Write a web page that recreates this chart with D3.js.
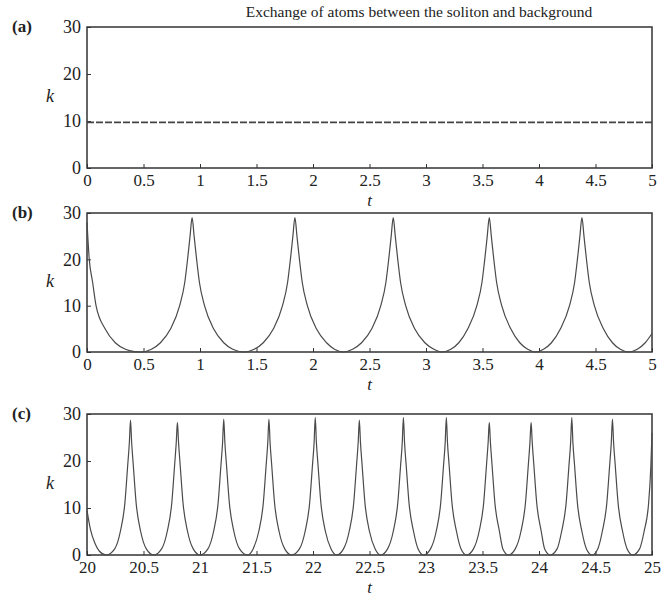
<!DOCTYPE html>
<html>
<head>
<meta charset="utf-8">
<script src="https://cdn.jsdelivr.net/npm/d3@7"></script>
<style>
  body { margin: 0; background: #fff; }
  svg { font-family: "Liberation Serif", "Times New Roman", serif; }
</style>
</head>
<body>
<div id="chart"></div>
<script>
// panel (a): k stays flat
var tA = [0, 5];
var kA = [9.7, 9.7];

// panel (b): t in [0,5]
var tB = [0, 0.02, 0.05, 0.08, 0.16, 0.25, 0.34, 0.42, 0.48,
  0.57, 0.65, 0.74, 0.82, 0.865, 0.89, 0.912, 0.93, 0.948, 0.97, 0.995, 1.04, 1.12, 1.21, 1.29, 1.39,
  1.48, 1.56, 1.65, 1.73, 1.775, 1.80, 1.822, 1.84, 1.858, 1.88, 1.905, 1.95, 2.03, 2.12, 2.19, 2.27,
  2.35, 2.43, 2.52, 2.60, 2.645, 2.67, 2.692, 2.71, 2.728, 2.75, 2.775, 2.82, 2.90, 2.99, 3.07, 3.14,
  3.22, 3.29, 3.37, 3.45, 3.495, 3.52, 3.542, 3.56, 3.578, 3.60, 3.625, 3.67, 3.75, 3.83, 3.90, 3.97,
  4.04, 4.11, 4.19, 4.27, 4.315, 4.34, 4.362, 4.38, 4.398, 4.42, 4.445, 4.49, 4.57, 4.65, 4.72, 4.79,
  4.87, 4.94, 5.0];
var kB = [28, 20, 15, 10, 5, 2, 0.6, 0.1, 0,
  0.6, 2, 5, 10, 15, 20, 25, 29, 25, 20, 15, 10, 5, 2, 0.6, 0,
  0.6, 2, 5, 10, 15, 20, 25, 29, 25, 20, 15, 10, 5, 2, 0.6, 0,
  0.6, 2, 5, 10, 15, 20, 25, 29, 25, 20, 15, 10, 5, 2, 0.6, 0,
  0.6, 2, 5, 10, 15, 20, 25, 29, 25, 20, 15, 10, 5, 2, 0.6, 0,
  0.6, 2, 5, 10, 15, 20, 25, 29, 25, 20, 15, 10, 5, 2, 0.6, 0,
  0.6, 2, 4];

// panel (c): t in [20,25]
var tC = [20.00, 20.03, 20.07, 20.11, 20.17,
  20.245, 20.295, 20.335, 20.36, 20.375, 20.385, 20.395, 20.41, 20.435, 20.475, 20.525, 20.59,
  20.66, 20.71, 20.75, 20.775, 20.79, 20.80, 20.81, 20.825, 20.85, 20.89, 20.94, 21.00,
  21.07, 21.12, 21.16, 21.185, 21.20, 21.21, 21.22, 21.235, 21.26, 21.30, 21.35, 21.42,
  21.47, 21.52, 21.56, 21.585, 21.60, 21.61, 21.62, 21.635, 21.66, 21.70, 21.75, 21.81,
  21.88, 21.93, 21.97, 21.995, 22.01, 22.02, 22.03, 22.045, 22.07, 22.11, 22.16, 22.21,
  22.27, 22.32, 22.36, 22.385, 22.40, 22.41, 22.42, 22.435, 22.46, 22.50, 22.55, 22.60,
  22.66, 22.71, 22.75, 22.775, 22.79, 22.80, 22.81, 22.825, 22.85, 22.89, 22.93, 22.98,
  23.04, 23.09, 23.13, 23.155, 23.17, 23.18, 23.19, 23.205, 23.23, 23.27, 23.31, 23.36,
  23.42, 23.47, 23.51, 23.535, 23.55, 23.56, 23.57, 23.585, 23.61, 23.65, 23.68, 23.73,
  23.79, 23.84, 23.88, 23.905, 23.92, 23.93, 23.94, 23.955, 23.98, 24.02, 24.05, 24.10,
  24.16, 24.20, 24.24, 24.265, 24.28, 24.29, 24.30, 24.315, 24.34, 24.38, 24.42, 24.47,
  24.52, 24.56, 24.60, 24.625, 24.64, 24.65, 24.66, 24.675, 24.70, 24.74, 24.78, 24.83,
  24.89, 24.93, 24.97, 24.99, 25.00];
var kC = [9.5, 5.5, 2.5, 0.8, 0,
  1.3, 5, 11, 19, 24, 28.7, 24, 19, 11, 5, 1.3, 0,
  1.3, 5, 11, 19, 24, 28.2, 24, 19, 11, 5, 1.3, 0,
  1.3, 5, 11, 19, 24, 28.9, 24, 19, 11, 5, 1.3, 0,
  1.3, 5, 11, 19, 24, 28.9, 24, 19, 11, 5, 1.3, 0,
  1.3, 5, 11, 19, 24, 29.3, 24, 19, 11, 5, 1.3, 0,
  1.3, 5, 11, 19, 24, 28.7, 24, 19, 11, 5, 1.3, 0,
  1.3, 5, 11, 19, 24, 29.3, 24, 19, 11, 5, 1.3, 0,
  1.3, 5, 11, 19, 24, 29.3, 24, 19, 11, 5, 1.3, 0,
  1.3, 5, 11, 19, 24, 28.2, 24, 19, 11, 5, 1.3, 0,
  1.3, 5, 11, 19, 24, 28.2, 24, 19, 11, 5, 1.3, 0,
  1.3, 5, 11, 19, 24, 29.3, 24, 19, 11, 5, 1.3, 0,
  1.3, 5, 11, 19, 24, 28.9, 24, 19, 11, 5, 1.3, 0,
  1.3, 5, 11, 19, 26];

var kTicks = [0, 10, 20, 30];
var ticksA = [0, 0.5, 1, 1.5, 2, 2.5, 3, 3.5, 4, 4.5, 5];
var ticksC = [20, 20.5, 21, 21.5, 22, 22.5, 23, 23.5, 24, 24.5, 25];

var title = "Exchange of atoms between the soliton and background";

var W = 663, H = 616;
var left = 87, right = 652;
var panels = [
  {label: "(a)", top: 27, bottom: 168, t: tA, k: kA, dom: [0, 5], ticks: ticksA, dashed: true},
  {label: "(b)", top: 213, bottom: 352, t: tB, k: kB, dom: [0, 5], ticks: ticksA},
  {label: "(c)", top: 414, bottom: 555, t: tC, k: kC, dom: [20, 25], ticks: ticksC}
];

var svg = d3.select("#chart")
  .append("svg")
    .attr("width", W)
    .attr("height", H);

svg.append("text")
  .attr("x", 419)
  .attr("y", 17)
  .attr("text-anchor", "middle")
  .attr("font-size", 15.5)
  .attr("fill", "#222")
  .text(title);

panels.forEach(function(p) {
  var x = d3.scaleLinear().domain(p.dom).range([left, right]);
  var y = d3.scaleLinear().domain([0, 30]).range([p.bottom, p.top]);
  var g = svg.append("g");

  // bottom axis, ticks pointing in
  var xa = g.append("g")
    .attr("transform", "translate(0," + p.bottom + ")")
    .call(d3.axisBottom(x).tickValues(p.ticks).tickSize(-4).tickPadding(6)
      .tickFormat(function(d) { return String(d); }));
  xa.selectAll("text").attr("font-size", 17).attr("fill", "#222")
    .attr("font-family", "Liberation Serif");
  xa.selectAll("line").attr("stroke", "#333");
  xa.select(".domain").remove();

  var ya = g.append("g")
    .attr("transform", "translate(" + left + ",0)")
    .call(d3.axisLeft(y).tickValues(kTicks).tickSize(-4).tickPadding(6));
  ya.selectAll("text").attr("font-size", 18).attr("fill", "#222")
    .attr("font-family", "Liberation Serif");
  ya.selectAll("line").attr("stroke", "#333");
  ya.select(".domain").remove();

  // frame
  g.append("rect")
    .attr("x", left).attr("y", p.top)
    .attr("width", right - left).attr("height", p.bottom - p.top)
    .attr("fill", "none").attr("stroke", "#333").attr("stroke-width", 1.5);

  var pts = p.t.map(function(d, i) { return [d, p.k[i]]; });
  g.append("path")
    .datum(pts)
    .attr("fill", "none")
    .attr("stroke", p.dashed ? "#444" : "#4a4a4a")
    .attr("stroke-width", p.dashed ? 1.6 : 1.2)
    .attr("stroke-dasharray", p.dashed ? "7,2" : null)
    .attr("d", d3.line()
      .curve(d3.curveMonotoneX)
      .x(function(d) { return x(d[0]); })
      .y(function(d) { return y(d[1]); }));

  g.append("text")
    .attr("x", 12).attr("y", p.top + 5)
    .attr("font-size", 17).attr("font-weight", "bold").attr("fill", "#222")
    .text(p.label);

  g.append("text")
    .attr("x", 46).attr("y", (p.top + p.bottom) / 2 + 4)
    .attr("font-size", 18).attr("font-style", "italic").attr("fill", "#222")
    .text("k");

  g.append("text")
    .attr("x", (left + right) / 2).attr("y", p.bottom + 38)
    .attr("text-anchor", "middle")
    .attr("font-size", 17).attr("font-style", "italic").attr("fill", "#222")
    .text("t");
});
</script>
</body>
</html>
